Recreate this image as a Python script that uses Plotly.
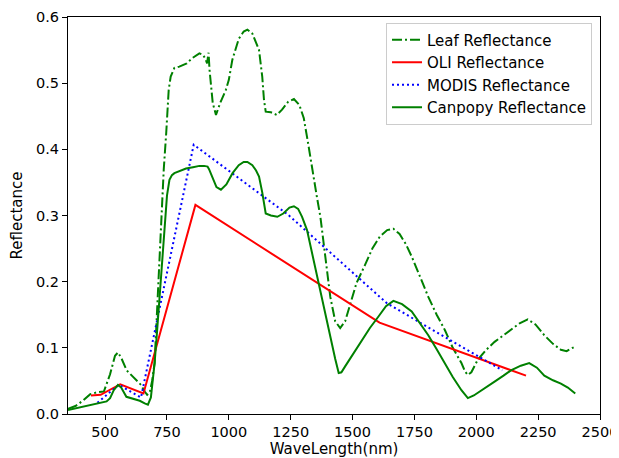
import plotly.graph_objects as go

# ---- Leaf reflectance ----
leaf_wl = [350, 380, 410, 440, 470, 495, 520, 540, 552, 565, 587, 610, 627, 645, 660, 670, 680,
           690, 700, 713, 720, 727, 737, 747, 757, 765, 780, 800, 812, 830, 853, 870, 881, 895,
           905, 912, 918, 922, 935, 948, 965, 988, 1000, 1014, 1040, 1060, 1075, 1095, 1110,
           1122, 1135, 1142, 1149, 1170, 1194, 1215, 1240, 1263, 1285, 1303, 1320, 1335, 1355,
           1370, 1390, 1410, 1430, 1450, 1470, 1490, 1516, 1550, 1580, 1610, 1640, 1665, 1690,
           1715, 1739, 1770, 1806, 1840, 1873, 1905, 1940, 1955, 1966, 1980, 2006, 2040, 2074,
           2110, 2140, 2175, 2208, 2240, 2275, 2310, 2342, 2365, 2389, 2400]
leaf_val = [0.008, 0.012, 0.020, 0.030, 0.033, 0.034, 0.060, 0.088, 0.093, 0.085, 0.066, 0.057,
            0.051, 0.044, 0.034, 0.029, 0.032, 0.050, 0.077, 0.177, 0.250, 0.298, 0.370, 0.425,
            0.490, 0.510, 0.523, 0.525, 0.527, 0.530, 0.538, 0.543, 0.545, 0.543, 0.537, 0.530,
            0.546, 0.520, 0.470, 0.452, 0.470, 0.490, 0.505, 0.535, 0.567, 0.578, 0.581, 0.575,
            0.562, 0.550, 0.510, 0.475, 0.457, 0.456, 0.452, 0.460, 0.472, 0.476, 0.467, 0.447,
            0.410, 0.374, 0.330, 0.298, 0.240, 0.177, 0.140, 0.130, 0.140, 0.165, 0.198, 0.225,
            0.250, 0.268, 0.278, 0.280, 0.272, 0.257, 0.238, 0.210, 0.177, 0.150, 0.127, 0.100,
            0.077, 0.064, 0.059, 0.063, 0.082, 0.097, 0.109, 0.119, 0.127, 0.137, 0.143, 0.135,
            0.119, 0.106, 0.097, 0.095, 0.100, 0.102]

# ---- OLI band reflectance ----
oli_wl = [443, 482, 561, 655, 865, 1609, 2201]
oli_val = [0.028, 0.029, 0.045, 0.031, 0.316, 0.138, 0.058]

# ---- MODIS band reflectance ----
modis_wl = [469, 555, 645, 858, 1240, 1640, 2105]
modis_val = [0.017, 0.044, 0.025, 0.407, 0.301, 0.167, 0.066]

# ---- Canopy reflectance ----
canopy_wl = [350, 400, 452, 480, 506, 520, 535, 552, 565, 586, 610, 640, 660, 673, 685, 700,
             710, 720, 730, 740, 750, 760, 770, 780, 800, 827, 855, 881, 900, 914, 920, 935,
             950, 968, 990, 1015, 1040, 1060, 1075, 1095, 1110, 1122, 1135, 1149, 1170, 1196,
             1220, 1245, 1263, 1280, 1296, 1316, 1340, 1363, 1400, 1430, 1444, 1455, 1470,
             1500, 1537, 1570, 1604, 1635, 1665, 1700, 1739, 1770, 1806, 1840, 1873, 1905,
             1940, 1966, 1990, 2020, 2074, 2110, 2140, 2180, 2214, 2245, 2275, 2310, 2342,
             2370, 2395, 2400]
canopy_val = [0.006, 0.010, 0.014, 0.016, 0.019, 0.024, 0.036, 0.044, 0.040, 0.026, 0.023,
              0.020, 0.016, 0.014, 0.025, 0.077, 0.125, 0.177, 0.230, 0.278, 0.330, 0.354,
              0.361, 0.364, 0.367, 0.371, 0.373, 0.375, 0.375, 0.374, 0.370, 0.355, 0.343,
              0.339, 0.347, 0.364, 0.376, 0.381, 0.381, 0.376, 0.368, 0.359, 0.335, 0.303,
              0.300, 0.298, 0.303, 0.312, 0.314, 0.310, 0.298, 0.278, 0.237, 0.195, 0.133,
              0.083, 0.062, 0.063, 0.072, 0.090, 0.112, 0.130, 0.147, 0.163, 0.171, 0.166,
              0.155, 0.139, 0.119, 0.098, 0.077, 0.056, 0.036, 0.024, 0.028, 0.036, 0.049,
              0.058, 0.066, 0.073, 0.077, 0.070, 0.058, 0.051, 0.046, 0.040, 0.032, 0.031]

x_ticks = [500, 750, 1000, 1250, 1500, 1750, 2000, 2250, 2500]
y_ticks = [0.0, 0.1, 0.2, 0.3, 0.4, 0.5, 0.6]

FONT = "DejaVu Sans"
FS = 15
TFS = 14.5

fig = go.Figure()
fig.add_trace(go.Scatter(x=leaf_wl, y=leaf_val, mode="lines", name="Leaf Reflectance",
                         line=dict(color="green", width=2, dash="10px,3px,2px,3px")))
fig.add_trace(go.Scatter(x=oli_wl, y=oli_val, mode="lines", name="OLI Reflectance",
                         line=dict(color="red", width=2)))
fig.add_trace(go.Scatter(x=modis_wl, y=modis_val, mode="lines", name="MODIS Reflectance",
                         line=dict(color="blue", width=2, dash="2px,3px")))
fig.add_trace(go.Scatter(x=canopy_wl, y=canopy_val, mode="lines", name="Canpopy Reflectance",
                         line=dict(color="green", width=2)))

axis_common = dict(showline=True, mirror=True, linecolor="black", linewidth=1,
                   ticks="outside", ticklen=5, tickcolor="black", tickwidth=1,
                   showgrid=False, zeroline=False, automargin=False,
                   ticklabeloverflow="allow",
                   tickfont=dict(family=FONT, size=TFS, color="black"))

fig.update_layout(
    width=611, height=450,
    margin=dict(l=60, r=19, t=9, b=44, autoexpand=False),
    paper_bgcolor="white", plot_bgcolor="white",
    font=dict(family=FONT, size=FS, color="black"),
    xaxis=dict(range=[350, 2500], tickvals=x_ticks,
               title=dict(text="WaveLength(nm)", standoff=6,
                          font=dict(family=FONT, size=FS, color="black")),
               **axis_common),
    yaxis=dict(range=[0, 0.6], tickvals=y_ticks, tickformat=".1f",
               title=dict(text="Reflectance", standoff=10,
                          font=dict(family=FONT, size=FS, color="black")),
               **axis_common),
    legend=dict(x=0.985, y=0.986, xanchor="right", yanchor="top",
                bordercolor="#cccccc", borderwidth=1, bgcolor="rgba(255,255,255,0.8)",
                font=dict(family=FONT, size=FS, color="black"),
                tracegroupgap=0),
    showlegend=True,
)

fig.write_html("out.html")
